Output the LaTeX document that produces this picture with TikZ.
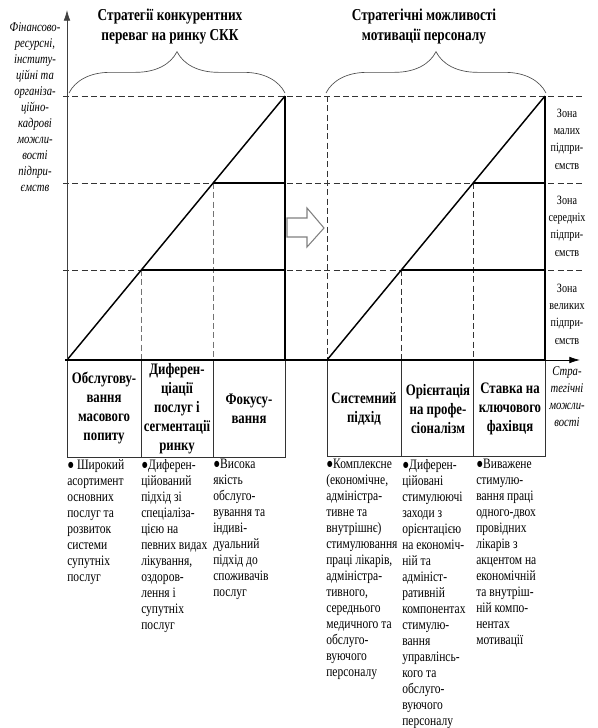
\documentclass[tikz,border=0pt]{standalone}
\usepackage{fontspec}
\setmainfont{Liberation Serif}[FakeStretch=0.8]
\usetikzlibrary{arrows.meta,decorations.pathreplacing}

\begin{document}
\begin{tikzpicture}[x=0.75pt,y=-0.75pt,
  gridline/.style={black!80, line width=0.45pt, dash pattern=on 4.5pt off 2.5pt},
  dropline/.style={black!55, line width=0.45pt, dash pattern=on 4.5pt off 2.5pt},
  zoneline/.style={black, line width=2.2pt},
  diagline/.style={black, line width=1.1pt},
  capbox/.style={draw=black!80, line width=0.5pt},
  bracestyle/.style={decorate, decoration={brace, amplitude=31pt}, black!70, line width=0.5pt},
  headtext/.style={font=\fontsize{12.5}{15}\selectfont\bfseries, align=center},
  boxtext/.style={font=\fontsize{12}{14.3}\selectfont\bfseries, align=center},
  notetext/.style={font=\fontsize{10.8}{12}\selectfont, align=left, anchor=north west, inner sep=0pt},
  sidetext/.style={font=\fontsize{10}{12}\selectfont\itshape, align=center, inner sep=0pt},
  zonetext/.style={font=\fontsize{9.5}{13}\selectfont, align=center, inner sep=0pt}
]
\useasboundingbox (0,0) rectangle (597,728);

% levels of the zones
\foreach \yy in {96,183,270} {
  \draw[gridline] (63,\yy) -- (582,\yy);
}

% Competitive strategies
\begin{scope}[shift={(0,0)}]
\draw[dropline] (141,270) -- (141,360);
\draw[dropline] (213,183) -- (213,360);
\draw[diagline] (67,360) -- (285,96);
\draw[zoneline] (141,270) -- (285,270);
\draw[zoneline] (213,183) -- (285,183);
\draw[zoneline] (285,96) -- (285,360);
\foreach \xa/\xb in {67/141, 141/213, 213/285} {
  \draw[capbox] (\xa,360) rectangle (\xb,457);
}
\draw[bracestyle] (69,93) -- (285,93);
\end{scope}

% Motivation strategies
\begin{scope}[shift={(260,0)}]
\draw[gridline] (67,96) -- (67,360);
\draw[gridline] (141,270) -- (141,360);
\draw[gridline] (213,183) -- (213,360);
\draw[diagline] (67,360) -- (285,96);
\draw[zoneline] (141,270) -- (285,270);
\draw[zoneline] (213,183) -- (285,183);
\draw[zoneline] (285,96) -- (285,360);
\foreach \xa/\xb in {67/141, 141/213, 213/285} {
  \draw[capbox] (\xa,360) rectangle (\xb,456);
}
\draw[bracestyle] (66,93) -- (286,93);
\end{scope}

% axes
\coordinate (orig) at (67,360);
\coordinate (ytip) at (67,10);
\coordinate (xend) at (546,360);
\coordinate (xtip) at (580,360);
\draw[black!75, line width=0.6pt, -{Latex[length=8pt,width=5pt]}] (orig) -- (ytip);
\draw[black, line width=2.2pt] (65,360) -- (xend);
\draw[black, line width=0.6pt, -{Latex[length=8pt,width=5pt]}] (xend) -- (xtip);

% block arrow between the panels
\draw[black!50, fill=white, line width=0.8pt]
  (287,218) -- (307,218) -- (307,208) -- (324,228) -- (307,247) -- (307,237) -- (287,237) -- cycle;

\node[headtext] (headL) at (170,27) {Стратегії конкурентних\\переваг на ринку СКК};
\node[headtext] (headR) at (424,27) {Стратегічні можливості\\мотивації персоналу};

\node[sidetext] (ylab) at (35,107) {Фінансово-\\ресурсні,\\інститу-\\ційні та\\організа-\\ційно-\\кадрові\\можли-\\вості\\підпри-\\ємств};
\node[sidetext, font=\fontsize{10}{12.8}\selectfont\itshape] (xlab) at (567,397) {Стра-\\тегічні\\можли-\\вості};

\foreach \yy/\zz [count=\k] in {139/малих, 226/середніх, 314/великих} {
  \node[zonetext] (zone\k) at (567,\yy) {Зона\\\zz\\підпри-\\ємств};
}

% captions of the boxes
\node[boxtext] (capL1) at (104,408) {Обслугову-\\вання\\масового\\попиту};
\node[boxtext] (capL2) at (177,409) {Диферен-\\ціації\\послуг і\\сегментації\\ринку};
\node[boxtext] (capL3) at (249,409) {Фокусу-\\вання};
\node[boxtext] (capR1) at (364,409) {Системний\\підхід};
\node[boxtext] (capR2) at (438,409) {Орієнтація\\на профе-\\сіоналізм};
\node[boxtext] (capR3) at (510,409) {Ставка на\\ключового\\фахівця};

% notes under the boxes
\node[notetext] (noteL1) at (67,459) {● Широкий\\асортимент\\основних\\послуг та\\розвиток\\системи\\супутніх\\послуг};
\node[notetext] (noteL2) at (141,459) {●Диферен-\\ційований\\підхід зі\\спеціаліза-\\цією на\\певних видах\\лікування,\\оздоров-\\лення і\\супутніх\\послуг};
\node[notetext] (noteL3) at (213,459) {●Висока\\якість\\обслуго-\\вування та\\індиві-\\дуальний\\підхід до\\споживачів\\послуг};
\node[notetext] (noteR1) at (326,459) {●Комплексне\\(економічне,\\адміністра-\\тивне та\\внутрішнє)\\стимулювання\\праці лікарів,\\адміністра-\\тивного,\\середнього\\медичного та\\обслуго-\\вуючого\\персоналу};
\node[notetext] (noteR2) at (402,459) {●Диферен-\\ційовані\\стимулюючі\\заходи з\\орієнтацією\\на економіч-\\ній та\\адмініст-\\ративній\\компонентах\\стимулю-\\вання\\управлінсь-\\кого та\\обслуго-\\вуючого\\персоналу};
\node[notetext] (noteR3) at (476,459) {●Виважене\\стимулю-\\вання праці\\одного-двох\\провідних\\лікарів з\\акцентом на\\економічній\\та внутріш-\\ній компо-\\нентах\\мотивації};
\end{tikzpicture}
\end{document}
